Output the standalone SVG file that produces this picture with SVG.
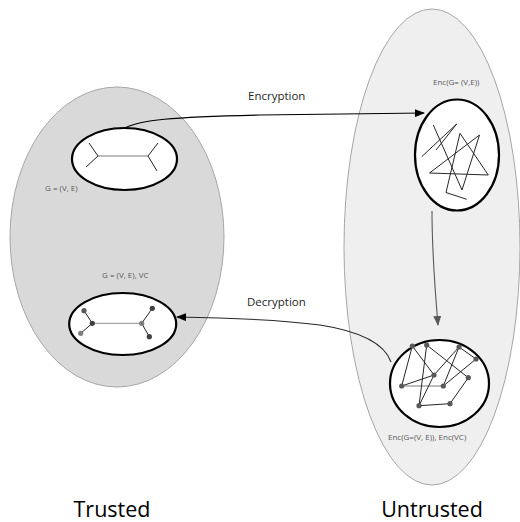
<svg xmlns="http://www.w3.org/2000/svg" width="520" height="522" viewBox="0 0 520 522">
<defs>
<style>
.zone-t{fill:#d9d9d9;stroke:#a6a6a6;stroke-width:1}
.zone-u{fill:#efefef;stroke:#a6a6a6;stroke-width:1}
.node{fill:#ffffff;stroke:#000000;stroke-width:2.2}
.edge{stroke:#262626;stroke-width:1;fill:none}
.edge-l{stroke:#a6a6a6;stroke-width:1.3;fill:none}
.v{fill:#595959}
.v2{fill:#404040}
.lbl{font-family:"Open Sans","Liberation Sans",sans-serif;font-size:8px;fill:#595959}
.clbl{font-family:"Open Sans","Liberation Sans",sans-serif;font-size:11.5px;fill:#262626}
.big{font-family:"Open Sans","Liberation Sans",sans-serif;font-size:21.5px;fill:#000000}
.conn{fill:none;stroke-width:1.1}
</style>
<marker id="ah" markerWidth="10" markerHeight="8" refX="9" refY="4" orient="auto" markerUnits="userSpaceOnUse">
<path d="M0,0 L10,4 L0,8 Z" fill="#000"/>
</marker>
<marker id="ahg" markerWidth="10" markerHeight="8" refX="9" refY="4" orient="auto" markerUnits="userSpaceOnUse">
<path d="M0,0 L10,4 L0,8 Z" fill="#595959"/>
</marker>
</defs>

<g id="zone-trusted">
<ellipse class="zone-t" cx="117" cy="237" rx="107" ry="150"/>
<text class="big" x="112" y="517" text-anchor="middle">Trusted</text>
</g>
<g id="zone-untrusted">
<ellipse class="zone-u" cx="432" cy="247" rx="88" ry="238"/>
<text class="big" x="432" y="517" text-anchor="middle">Untrusted</text>
</g>

<g id="connectors">
<path class="conn" stroke="#000" d="M125,128 C140,120 170,117 260,115 L424,113" marker-end="url(#ah)"/>
<text class="clbl" x="248" y="100">Encryption</text>
<path class="conn" stroke="#595959" d="M432,211 C432,255 435,290 438,325" marker-end="url(#ahg)"/>
<path class="conn" stroke="#262626" d="M391,362 C385,345 365,332 320,325 C290,321 240,318 177,317" marker-end="url(#ah)"/>
<text class="clbl" x="247" y="306">Decryption</text>
</g>

<g id="node-graph">
<ellipse class="node" cx="124.5" cy="159" rx="52.5" ry="31"/>
<line class="edge-l" x1="98" y1="156" x2="148" y2="156" stroke="#7f7f7f"/>
<path class="edge" d="M89,143 L98,156 L86,167 M158,143 L148,156 L157,171"/>
<text class="lbl" x="45" y="191">G = (V, E)</text>
</g>

<g id="node-enc-graph">
<ellipse class="node" cx="457" cy="155" rx="42" ry="55.5"/>
<path class="edge" stroke-width="0.9" d="M433.3,125 L462,190 L479.5,135 L429.5,173 L488.3,175 L460,133.3 L446,192.5 L466.7,199.3 M421.7,156.7 L456.7,124 L436,150"/>
<text class="lbl" x="433" y="85">Enc(G= (V,E))</text>
</g>

<g id="node-enc-vc">
<ellipse class="node" cx="439.5" cy="383.5" rx="49.5" ry="43.5"/>
<line class="edge-l" x1="401.7" y1="386" x2="443.3" y2="386"/>
<path class="edge" d="M412.3,346 L401.7,386 M412.3,346 L434,375 M426.7,345 L419,405.7 M426.7,345 L468.3,377.7 M459,347 L476,359 M459,347 L443.3,386 M459,347 L434,375 M434,375 L419,405.7 M401.7,386 L434,375 M443.3,386 L476,359 M468.3,377.7 L450,403.7 M419,405.7 L450,403.7"/>
<g class="v">
<circle cx="412.3" cy="346" r="2.6"/><circle cx="426.7" cy="345" r="2.6"/><circle cx="459" cy="347" r="2.6"/><circle cx="476" cy="359" r="2.6"/><circle cx="434" cy="375" r="2.6"/><circle cx="468.3" cy="377.7" r="2.6"/><circle cx="401.7" cy="386" r="2.6"/><circle cx="443.3" cy="386" r="2.6"/><circle cx="419" cy="405.7" r="2.6"/><circle cx="450" cy="403.7" r="2.6"/>
</g>
<text class="lbl" x="388" y="440">Enc(G=(V, E)), Enc(VC)</text>
</g>

<g id="node-decrypted">
<ellipse class="node" cx="122.7" cy="324" rx="53.5" ry="31"/>
<line class="edge-l" x1="92.3" y1="323.3" x2="141.7" y2="323.3"/>
<path class="edge" d="M84,310.7 L92.3,323.3 L80.7,333.3 M152.3,308.3 L141.7,323.3 L149.3,336.7"/>
<circle class="v" cx="84" cy="310.7" r="2.6" fill="#7f7f7f"/>
<circle class="v2" cx="92.3" cy="323.3" r="2.6"/>
<circle class="v" cx="80.7" cy="333.3" r="2.6" style="fill:#7f7f7f"/>
<circle class="v" cx="141.7" cy="323.3" r="2.6" style="fill:#7f7f7f"/>
<circle class="v2" cx="152.3" cy="308.3" r="2.6"/>
<circle class="v2" cx="149.3" cy="336.7" r="2.6"/>
<text class="lbl" x="102" y="278">G = (V, E), VC</text>
</g>
</svg>
